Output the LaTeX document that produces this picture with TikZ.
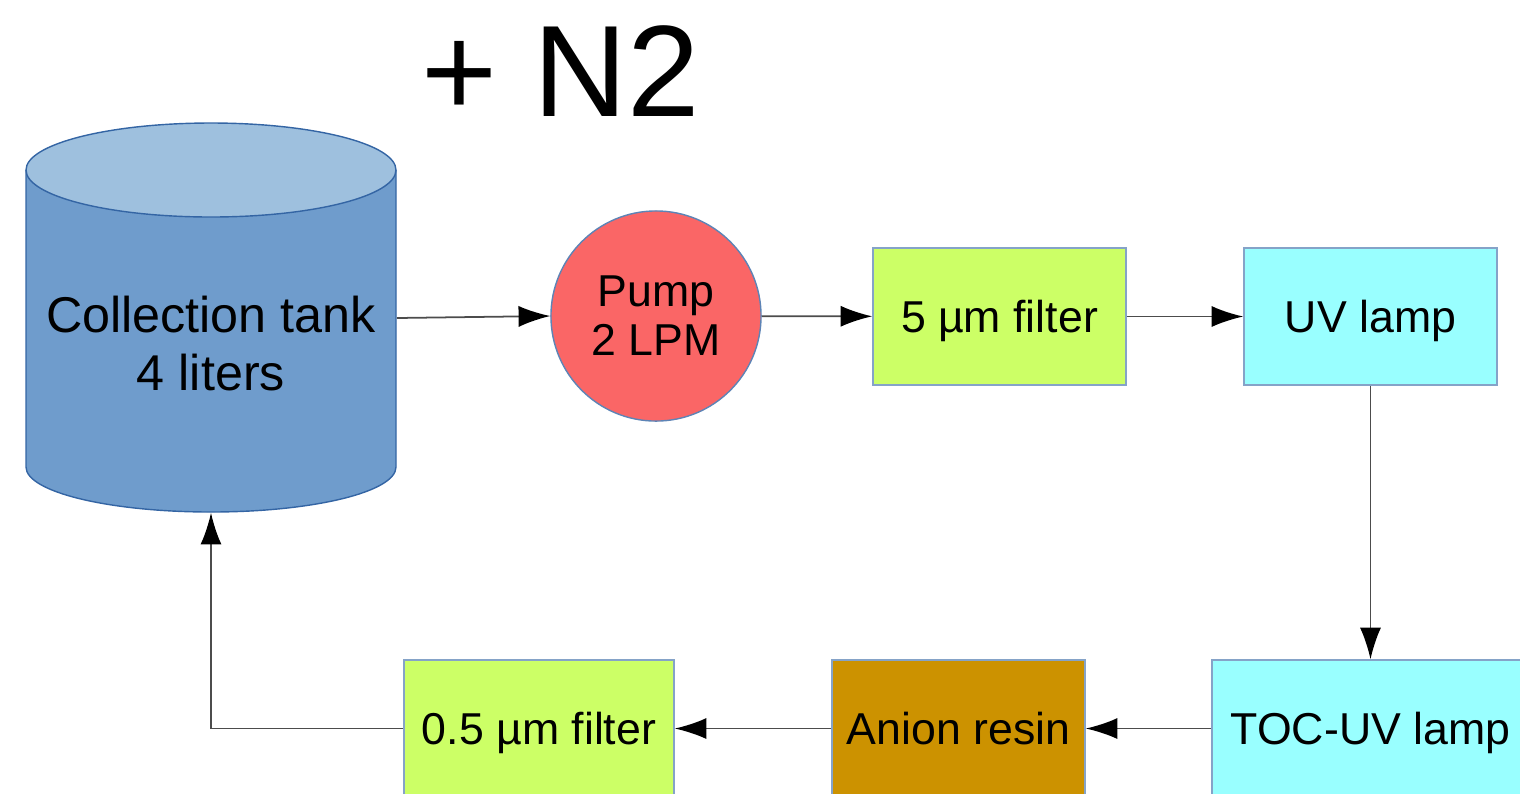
\documentclass[tikz,border=0pt]{standalone}
\usepackage{fontspec}
\setmainfont{Liberation Sans}
\usetikzlibrary{arrows.meta,positioning}
\definecolor{tankblue}{HTML}{6F9CCC}
\definecolor{tanktop}{HTML}{9EC0DE}
\definecolor{edgeblue}{HTML}{3465A4}
\definecolor{pumpred}{HTML}{FA6666}
\definecolor{filtergreen}{HTML}{CCFF66}
\definecolor{uvcyan}{HTML}{99FFFF}
\definecolor{resinbrown}{HTML}{CC9200}

\begin{document}
\begin{tikzpicture}[x=0.01cm,y=-0.01cm,>={Latex[length=9pt,width=6pt,color=black]},
  unit/.style={rectangle,draw=edgeblue!60,line width=0.4pt,minimum width=2.53cm,minimum height=1.37cm,align=center,font=\fontsize{12.7}{15}\selectfont,inner sep=1pt,text depth=0pt},
  flow/.style={->,draw=black!70,line width=0.5pt}]
\path[use as bounding box,clip] (0,0) rectangle (1520,793);
% collection tank
\fill[tankblue] (26,170) -- (26,467) arc[start angle=180,end angle=0,x radius=185,y radius=45] -- (396,170) -- cycle;
\draw[edgeblue,line width=0.4pt] (26,170) -- (26,467) arc[start angle=180,end angle=0,x radius=185,y radius=45] -- (396,170);
\filldraw[fill=tanktop,draw=edgeblue,line width=0.4pt] (211,170) ellipse [x radius=185,y radius=47];
\node[minimum width=3.7cm,minimum height=3.88cm,inner sep=0pt] (tank) at (211,318) {};
\node[font=\fontsize{14.3}{16.5}\selectfont,align=center,text depth=0pt] (tanktxt) at (211,343) {Collection tank\\4 liters};
\node[font=\fontsize{37}{40}\selectfont] (gas) at (561,71) {+ N2};
% loop
\node[circle,draw=edgeblue!80,line width=0.4pt,fill=pumpred,minimum size=2.1cm,inner sep=0pt,align=center,text depth=0pt,font=\fontsize{12.7}{13.9}\selectfont] (pump) at (656,316) {Pump\\2 LPM};
\node[unit,fill=filtergreen] (f5) at (999.5,316.5) {5 µm filter};
\node[unit,fill=uvcyan] (uv) at (1370.5,316.5) {UV lamp};
\node[unit,fill=uvcyan,minimum width=3.17cm] (toc) at (1370.5,728.5) {TOC-UV lamp};
\node[unit,fill=resinbrown] (resin) at (958.5,728.5) {Anion resin};
\node[unit,fill=filtergreen,minimum width=2.7cm] (f05) at (539,728.5) {0.5 µm filter};
\draw[flow] (tank.east) -- (pump.west);
\draw[flow] (pump) -- (f5);
\draw[flow] (f5) -- (uv);
\draw[flow] (uv) -- (toc);
\draw[flow] (toc) -- (resin);
\draw[flow] (resin) -- (f05);
\draw[flow] (f05.west) -| (tank.south);
\end{tikzpicture}
\end{document}
